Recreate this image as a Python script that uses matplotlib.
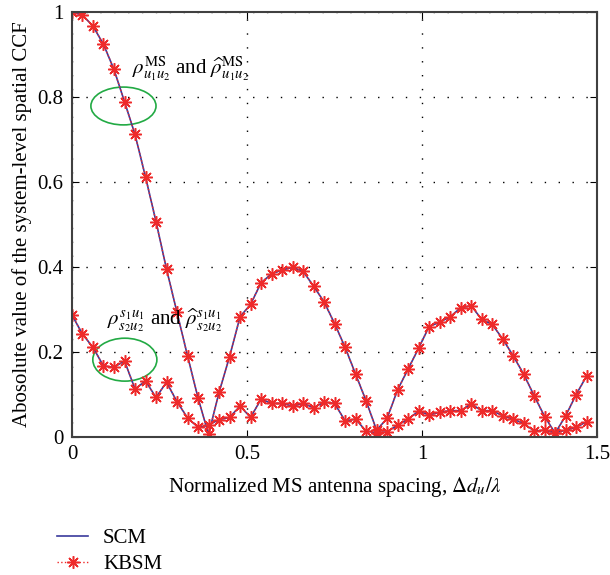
import matplotlib
matplotlib.use("Agg")
import matplotlib.pyplot as plt
from matplotlib.patches import Ellipse
from matplotlib.ticker import FormatStrFormatter
import numpy as np

plt.rcParams['font.family'] = ['Liberation Serif', 'DejaVu Serif']
plt.rcParams['mathtext.fontset'] = 'stix'

# normalized MS antenna spacing (sample grid)
spacing = np.linspace(0, 1.47, 50)

# |CCF|, SCM and KBSM coincide
ccf_ms = [1.000, 0.993, 0.967, 0.924, 0.865, 0.789, 0.712, 0.612, 0.507, 0.395,
          0.293, 0.191, 0.092, 0.006, 0.105, 0.189, 0.283, 0.312, 0.363, 0.384,
          0.393, 0.399, 0.390, 0.355, 0.318, 0.267, 0.211, 0.148, 0.085, 0.016,
          0.044, 0.111, 0.160, 0.209, 0.260, 0.270, 0.283, 0.304, 0.309, 0.277,
          0.265, 0.231, 0.191, 0.148, 0.097, 0.048, 0.009, 0.050, 0.100, 0.144]
ccf_s = [0.287, 0.242, 0.211, 0.167, 0.164, 0.179, 0.113, 0.132, 0.093, 0.129,
         0.083, 0.045, 0.023, 0.028, 0.041, 0.046, 0.073, 0.046, 0.089, 0.079,
         0.079, 0.073, 0.079, 0.069, 0.082, 0.079, 0.038, 0.042, 0.014, 0.010,
         0.012, 0.028, 0.042, 0.061, 0.052, 0.058, 0.062, 0.062, 0.078, 0.062,
         0.062, 0.050, 0.042, 0.032, 0.014, 0.016, 0.010, 0.016, 0.023, 0.036]

x_ticks = [0, 0.5, 1, 1.5]
y_ticks = [0, 0.2, 0.4, 0.6, 0.8, 1]

fig = plt.figure(figsize=(6.1, 5.75), dpi=100)
ax = fig.add_axes([0.118, 0.24, 0.861, 0.739])

blue = '#3a3a9c'
red = '#ee2a2a'
star = (8, 2, 0)

ax.plot(spacing, ccf_ms, color=blue, lw=1.2, label='SCM')
ax.plot(spacing, ccf_s, color=blue, lw=1.2)
ax.plot(spacing, ccf_ms, color=red, ls=':', lw=1.0, marker=star, ms=9, mew=1.1, label='KBSM')
ax.plot(spacing, ccf_s, color=red, ls=':', lw=1.0, marker=star, ms=9, mew=1.1)

ax.set_xlim(0, 1.5)
ax.set_ylim(0, 1)
ax.set_xticks(x_ticks)
ax.set_yticks(y_ticks)
ax.xaxis.set_major_formatter(FormatStrFormatter('%g'))
ax.yaxis.set_major_formatter(FormatStrFormatter('%g'))
ax.tick_params(direction='in', labelsize=15, length=5, top=True, right=True, pad=6)
ax.grid(True, color='black', ls=(0, (1, 9)), lw=1.0)
for s in ax.spines.values():
    s.set_color('#404040')
    s.set_linewidth(1.5)

ax.set_xlabel(r'Normalized MS antenna spacing, $\Delta d_u/\lambda$', fontsize=15, labelpad=8)
ax.set_ylabel('Abosolute value of the system-level spatial CCF', fontsize=15, labelpad=4)

ax.text(0.172, 0.868, r'$\rho^{\mathrm{MS}}_{u_1u_2}$ and $\widehat{\rho}^{\mathrm{MS}}_{u_1u_2}$',
        fontsize=15, va='center', ha='left')
ax.text(0.10, 0.273, r'$\rho^{s_1u_1}_{s_2u_2}$ and $\widehat{\rho}^{s_1u_1}_{s_2u_2}$',
        fontsize=15, va='center', ha='left')
ax.add_patch(Ellipse((0.147, 0.779), 0.186, 0.089, fill=False, ec='#22aa44', lw=1.2))
ax.add_patch(Ellipse((0.151, 0.182), 0.183, 0.101, fill=False, ec='#22aa44', lw=1.2))

fig.legend(loc='upper left', bbox_to_anchor=(0.08, 0.095), frameon=False, fontsize=15,
           handlelength=1.5, handletextpad=0.7, labelspacing=0.3, borderaxespad=0)

fig.savefig('out.png', dpi=100)
